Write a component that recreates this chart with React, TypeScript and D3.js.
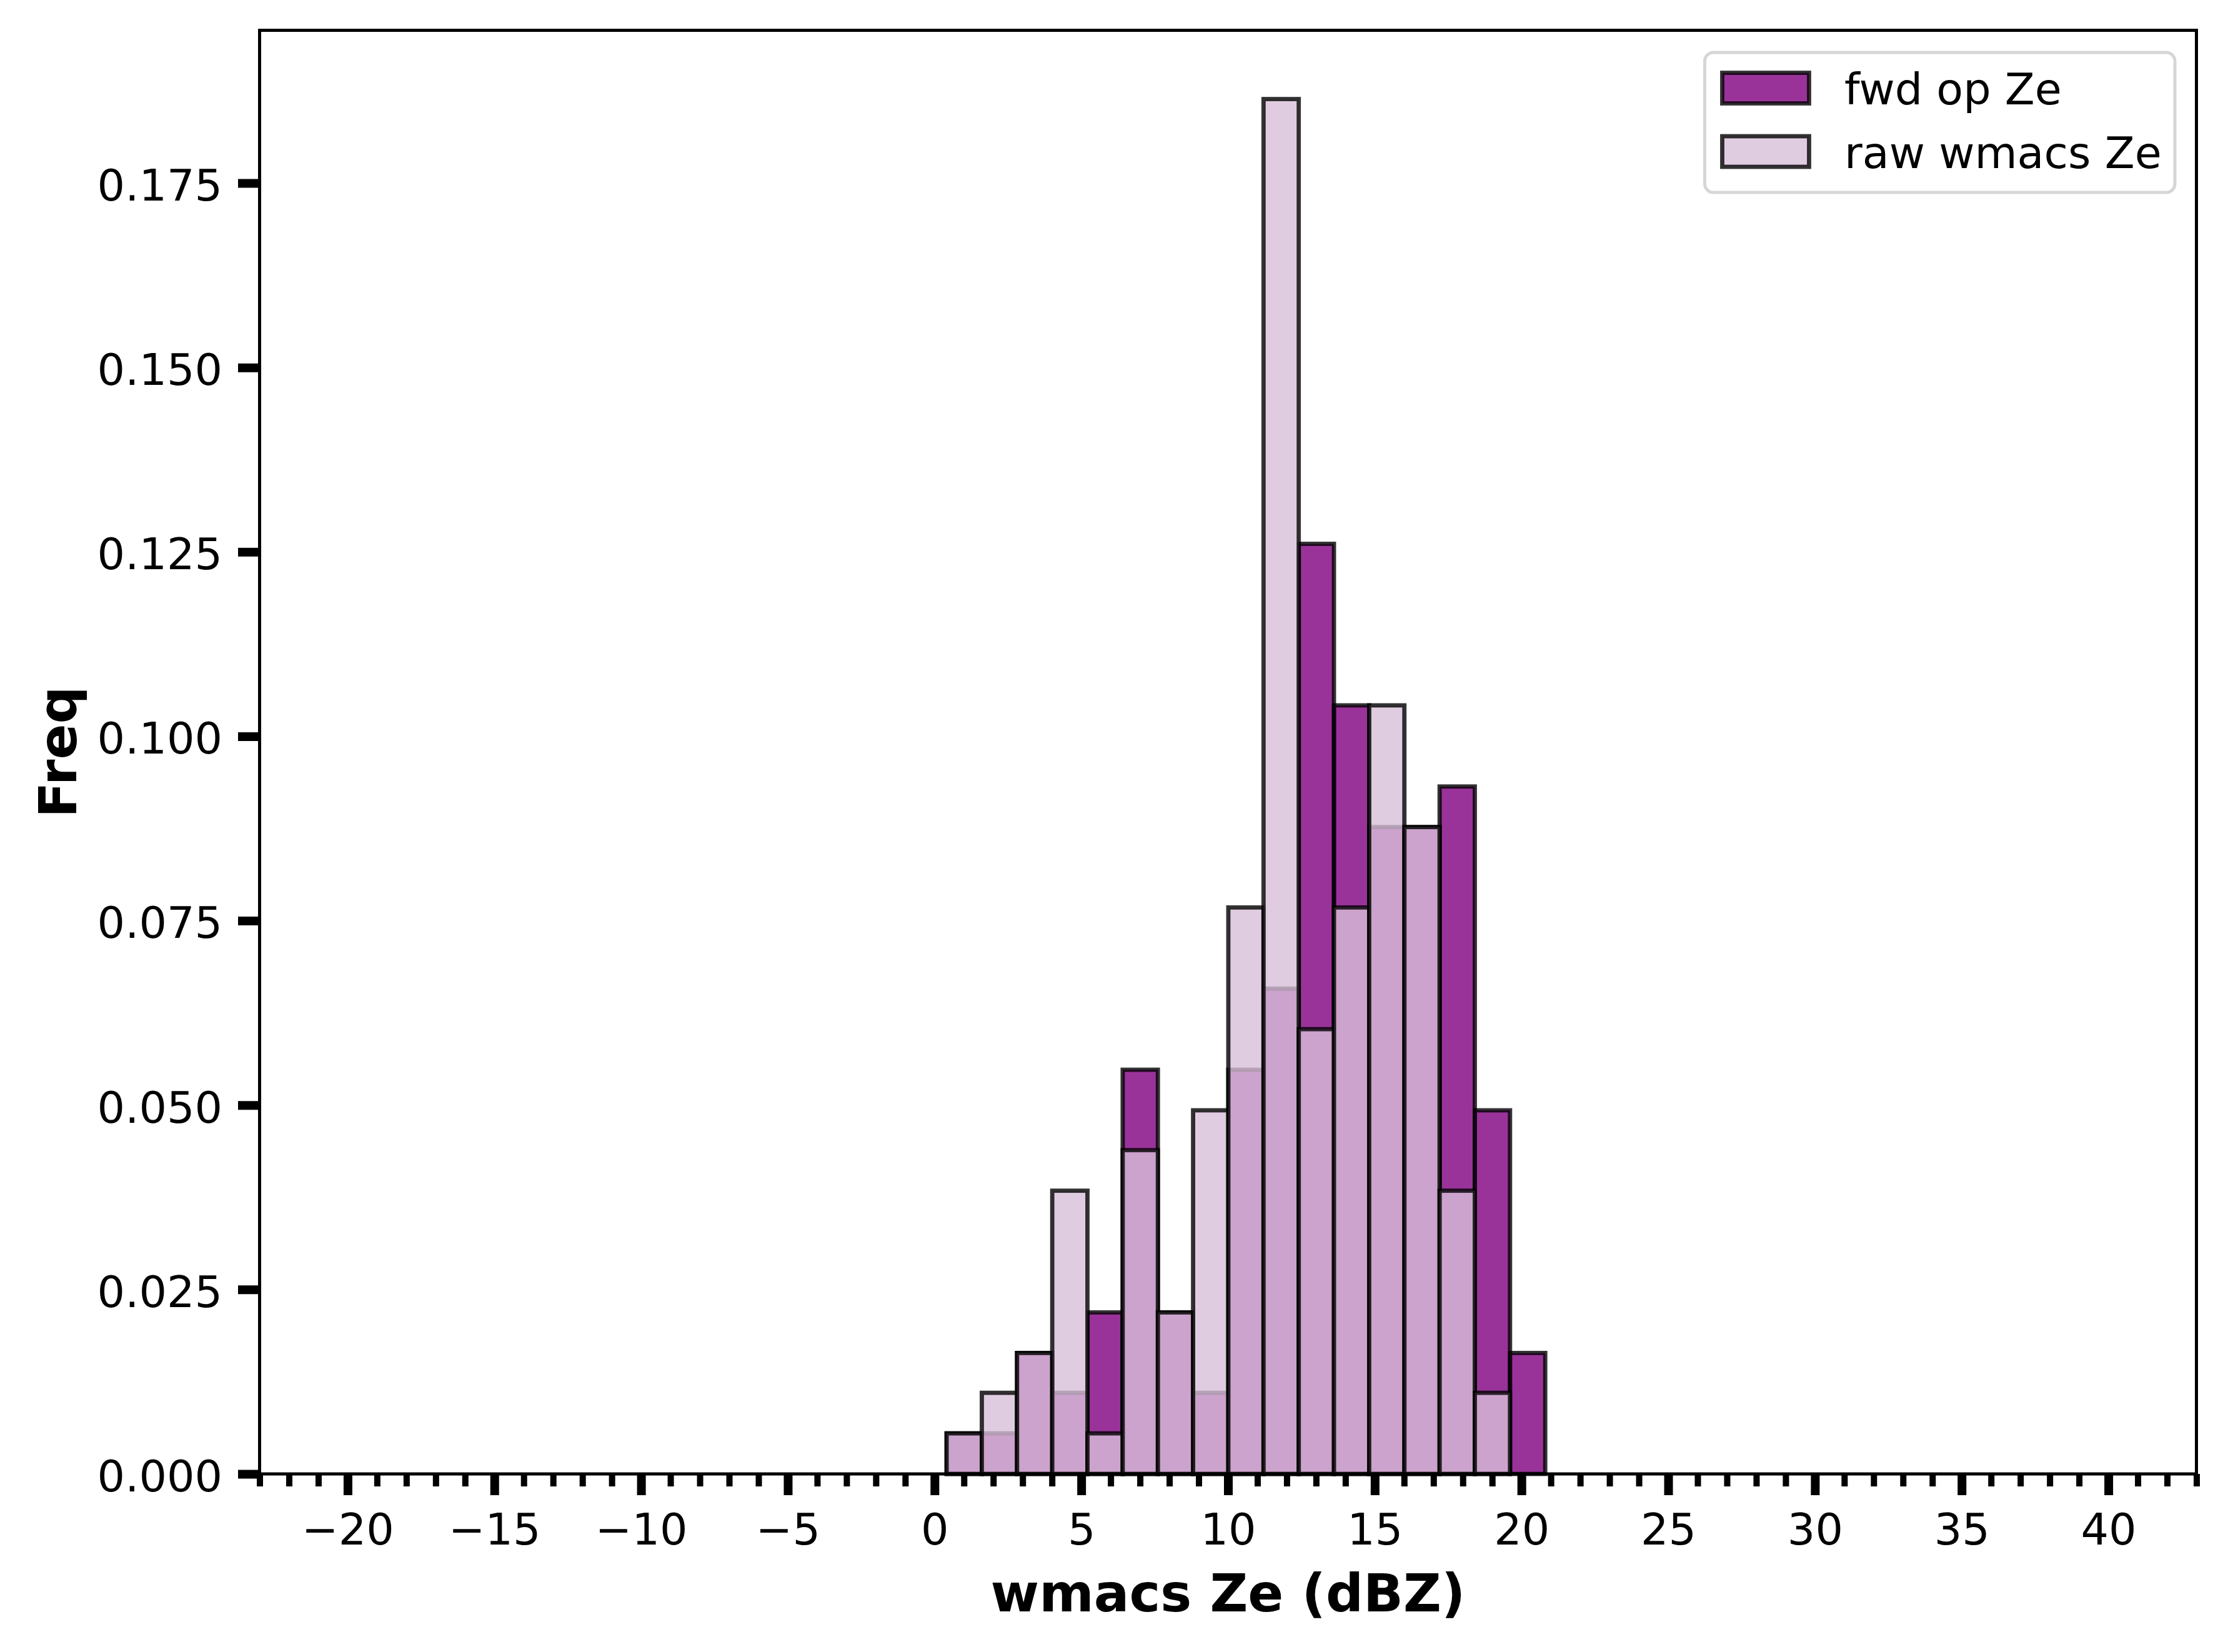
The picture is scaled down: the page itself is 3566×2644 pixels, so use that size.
import React, { useEffect, useRef } from 'react'
import * as d3 from 'd3'

// histogram bins (dBZ) shared by both series
const binEdges = [
  0.41, 1.61, 2.81, 4.01, 5.21, 6.41, 7.61, 8.81, 10.01, 11.21, 12.41, 13.61, 14.81, 16.01, 17.21, 18.41,
  19.61, 20.81
]

// density per bin
const fwdFreq = [
  0.0055, 0.0055, 0.0164, 0.011, 0.0219, 0.0548, 0.0219, 0.011, 0.0548, 0.0658, 0.1261, 0.1042, 0.0877,
  0.0877, 0.0932, 0.0493, 0.0164
]
const rawFreq = [
  0.0055, 0.011, 0.0164, 0.0384, 0.0055, 0.0439, 0.0219, 0.0493, 0.0768, 0.1864, 0.0603, 0.0768, 0.1042,
  0.0877, 0.0384, 0.011, 0
]

const seriesNames = ['fwd op Ze', 'raw wmacs Ze']
const seriesColors = ['#800080', '#d8bfd8']

const xMajorTicks = [-20, -15, -10, -5, 0, 5, 10, 15, 20, 25, 30, 35, 40]
const yTicks = [0, 0.025, 0.05, 0.075, 0.1, 0.125, 0.15, 0.175]

const xLabel = 'wmacs Ze (dBZ)'
const yLabel = 'Freq'

const width = 3566
const height = 2644
const margin = { top: 48.5, right: 50.5, bottom: 285, left: 415.5 }
const FONT = '"DejaVu Sans", sans-serif'

interface IBin {
  x0: number
  x1: number
  v: number
}

const Chart = () => {
  const ref = useRef<SVGSVGElement>(null)

  useEffect(() => {
    const svg = d3.select(ref.current)
    svg.selectAll('*').remove()

    const boundedWidth = width - margin.left - margin.right
    const boundedHeight = height - margin.top - margin.bottom

    const xScale = d3.scaleLinear().domain([-23, 43]).range([0, boundedWidth])
    const yMax = (d3.max([...fwdFreq, ...rawFreq]) as number) * 1.05
    const yScale = d3.scaleLinear().domain([0, yMax]).range([boundedHeight, 0])

    svg.append('rect').attr('width', width).attr('height', height).attr('fill', '#fff')

    const bounds = svg.append('g').attr('transform', `translate(${margin.left},${margin.top})`)

    const drawSeries = (values: number[], color: string) => {
      const bins: IBin[] = values
        .map((v, i) => ({ x0: binEdges[i], x1: binEdges[i + 1], v }))
        .filter(d => d.v > 0)
      bounds
        .append('g')
        .selectAll('rect')
        .data(bins)
        .join('rect')
        .attr('x', d => xScale(d.x0))
        .attr('y', d => yScale(d.v))
        .attr('width', d => xScale(d.x1) - xScale(d.x0))
        .attr('height', d => yScale(0) - yScale(d.v))
        .attr('fill', color)
        .attr('fill-opacity', 0.8)
        .attr('stroke', '#000')
        .attr('stroke-opacity', 0.8)
        .attr('stroke-width', 6.8)
    }
    drawSeries(fwdFreq, seriesColors[0])
    drawSeries(rawFreq, seriesColors[1])

    // minor x ticks every 1 dBZ
    const minorTicks = d3.range(-23, 44).filter(v => v % 5 !== 0)
    const xMinor = bounds
      .append('g')
      .attr('transform', `translate(0,${boundedHeight})`)
      .call(d3.axisBottom(xScale).tickValues(minorTicks).tickSize(20).tickFormat(() => ''))
    xMinor.select('.domain').remove()
    xMinor.selectAll('line').attr('stroke-width', 10)

    const xAxis = bounds
      .append('g')
      .attr('transform', `translate(0,${boundedHeight})`)
      .call(
        d3
          .axisBottom(xScale)
          .tickValues(xMajorTicks)
          .tickSize(34)
          .tickPadding(29)
          .tickFormat(d => ((d as number) < 0 ? '\u2212' + Math.abs(d as number) : String(d)))
      )
    xAxis.select('.domain').remove()
    xAxis.selectAll('line').attr('stroke-width', 14)
    xAxis.selectAll('text').attr('font-size', 70).attr('font-family', FONT).attr('fill', '#000')

    const yAxis = bounds
      .append('g')
      .call(d3.axisLeft(yScale).tickValues(yTicks).tickSize(34.5).tickPadding(25).tickFormat(d3.format('.3f')))
    yAxis.select('.domain').remove()
    yAxis.selectAll('line').attr('stroke-width', 14)
    yAxis
      .selectAll('text')
      .attr('font-size', 70)
      .attr('font-family', FONT)
      .attr('fill', '#000')
      .attr('dy', '0.39em')

    // spines
    bounds
      .append('rect')
      .attr('width', boundedWidth)
      .attr('height', boundedHeight)
      .attr('fill', 'none')
      .attr('stroke', '#000')
      .attr('stroke-width', 5)

    svg
      .append('text')
      .attr('x', margin.left + boundedWidth / 2)
      .attr('y', 2579)
      .attr('text-anchor', 'middle')
      .attr('font-family', FONT)
      .attr('font-weight', 'bold')
      .attr('font-size', 84)
      .text(xLabel)

    svg
      .append('text')
      .attr('transform', `translate(122,${margin.top + boundedHeight / 2}) rotate(-90)`)
      .attr('text-anchor', 'middle')
      .attr('font-family', FONT)
      .attr('font-weight', 'bold')
      .attr('font-size', 84)
      .text(yLabel)

    // legend
    const legend = svg.append('g')
    legend
      .append('rect')
      .attr('x', 2728.5)
      .attr('y', 84)
      .attr('width', 752.5)
      .attr('height', 224)
      .attr('rx', 14)
      .attr('fill', '#fff')
      .attr('fill-opacity', 0.8)
      .attr('stroke', '#ccc')
      .attr('stroke-opacity', 0.8)
      .attr('stroke-width', 5)

    const entries = legend
      .selectAll('g.entry')
      .data(seriesNames)
      .join('g')
      .attr('class', 'entry')
      .attr('transform', (_, i) => `translate(0,${141 + i * 101.5})`)
    entries
      .append('rect')
      .attr('x', 2756.5)
      .attr('y', -24.5)
      .attr('width', 139)
      .attr('height', 49)
      .attr('fill', (_, i) => seriesColors[i])
      .attr('fill-opacity', 0.8)
      .attr('stroke', '#000')
      .attr('stroke-opacity', 0.8)
      .attr('stroke-width', 6.8)
    entries
      .append('text')
      .attr('x', 2952)
      .attr('y', 26)
      .attr('font-family', FONT)
      .attr('font-size', 70)
      .attr('fill', '#000')
      .text(d => d)
  }, [])

  return (
    <svg
      ref={ref}
      width={width}
      height={height}
      style={{ position: 'absolute', left: 0, top: 0, display: 'block' }}
    />
  )
}

const App = () => {
  return <Chart />
}

export default App
